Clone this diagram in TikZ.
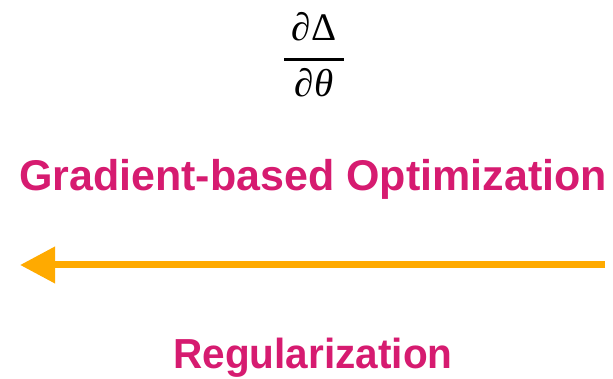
\documentclass[tikz,border=0pt]{standalone}
\usepackage{fontspec}
\setmainfont{Liberation Sans}
\newfontfamily\fracfont{Liberation Serif}
\usetikzlibrary{arrows.meta}
\definecolor{magentatext}{HTML}{D61B70}
\definecolor{arroworange}{HTML}{FFAA00}
\tikzset{
  labeltext/.style={text=magentatext, font=\bfseries, inner sep=0pt, anchor=base},
  fractext/.style={inner sep=0pt, anchor=base, font=\fracfont\fontsize{39}{39}\selectfont},
  bigarrow/.style={draw=arroworange, line width=7pt, -{Triangle[length=35pt,width=35pt]}},
}
\begin{document}
\begin{tikzpicture}[x=1pt,y=1pt]
\useasboundingbox (0,0) rectangle (613,379);
% fraction
\node[fractext] (num) at (314,338) {∂Δ};
\node[fractext] (den) at (314,282) {∂\textit{θ}};
\coordinate (barL) at (284,319);
\coordinate (barR) at (344,319);
\draw[line width=3pt] (barL) -- (barR);
% labels
\node[labeltext, font=\bfseries\fontsize{43}{43}\selectfont] (grad) at (313,188) {Gradient-based Optimization};
\node[labeltext, font=\bfseries\fontsize{42}{42}\selectfont, xscale=0.965, transform shape] (reg) at (313,10) {Regularization};
% arrow
\coordinate (astart) at (605,114);
\coordinate (aend) at (20,114);
\draw[bigarrow] (astart) -- (aend);
\end{tikzpicture}
\end{document}
